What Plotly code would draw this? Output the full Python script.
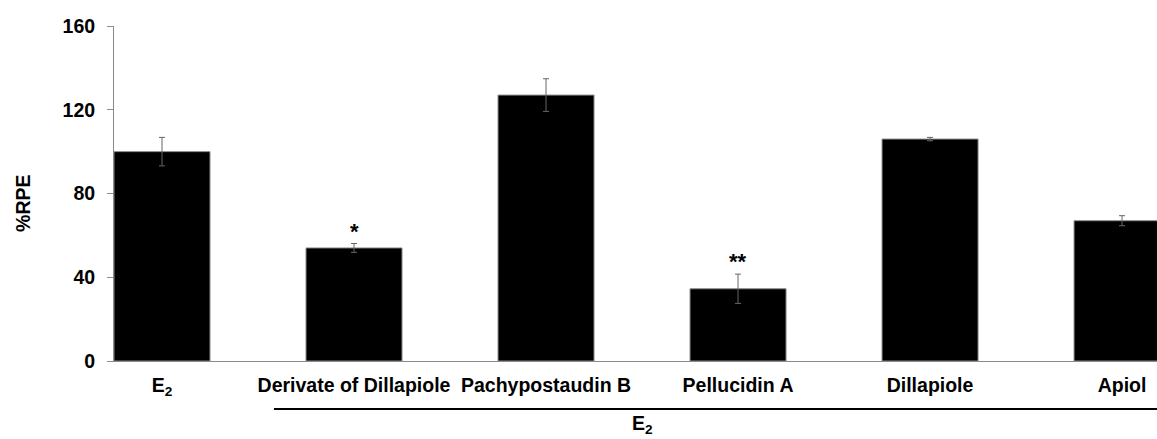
import plotly.graph_objects as go

categories = ["E<sub>2</sub>", "Derivate of Dillapiole", "Pachypostaudin B",
              "Pellucidin A", "Dillapiole", "Apiol"]
values = [100, 54, 127, 34.5, 106, 67]
errors = [6.8, 2.1, 7.8, 7.0, 0.8, 2.4]
marks = ["", "*", "", "**", "", ""]
y_ticks = [0, 40, 80, 120, 160]

font = "Liberation Sans, Arial, sans-serif"
fs = 19.5

fig = go.Figure()
fig.add_trace(go.Bar(
    x=list(range(len(categories))), y=values,
    marker=dict(color="black", line=dict(color="#8a8a8a", width=1)),
    error_y=dict(type="data", array=errors, color="#666666", thickness=1, width=3),
    width=0.5,
))

for i, (v, e, m) in enumerate(zip(values, errors, marks)):
    if m:
        fig.add_annotation(x=i, y=v + e, text=f"<b>{m}</b>", showarrow=False,
                           yanchor="bottom", yshift=-2,
                           font=dict(family=font, size=22, color="black"))

# bracket line under the E2-treated group
fig.add_shape(type="line", xref="x", yref="paper", x0=0.583, x1=5.3, y0=-0.143, y1=-0.143,
              line=dict(color="black", width=2))
fig.add_annotation(x=2.5, xref="x", y=-0.19, yref="paper", text="<b>E<sub>2</sub></b>",
                   showarrow=False, yanchor="middle",
                   font=dict(family=font, size=fs, color="black"))
# y axis title
fig.add_annotation(x=-0.0872, xref="paper", y=0.469, yref="paper", text="<b>%RPE</b>",
                   showarrow=False, textangle=-90, xanchor="center", yanchor="middle",
                   font=dict(family=font, size=fs, color="black"))

fig.update_layout(
    width=1157, height=439,
    margin=dict(l=114, r=0, t=26, b=78),
    paper_bgcolor="white", plot_bgcolor="white",
    showlegend=False,
    font=dict(family=font, size=fs, color="black"),
    xaxis=dict(
        range=[-0.25, 5.182],
        tickmode="array", tickvals=list(range(len(categories))),
        ticktext=[f"<b>{c}</b>" for c in categories],
        showline=True, linecolor="#8a8a8a", linewidth=1,
        ticks="", showgrid=False, zeroline=False,
        ticklabelstandoff=7,
        tickfont=dict(family=font, size=fs, color="black"),
    ),
    yaxis=dict(
        range=[0, 160], tickvals=y_ticks,
        ticktext=[f"<b>{t}</b>" for t in y_ticks],
        showline=True, linecolor="#8a8a8a", linewidth=1,
        ticks="outside", ticklen=6, tickcolor="#8a8a8a",
        showgrid=False, zeroline=False,
        ticklabelstandoff=8,
        tickfont=dict(family=font, size=fs, color="black"),
    ),
)

fig.write_html("out.html")
